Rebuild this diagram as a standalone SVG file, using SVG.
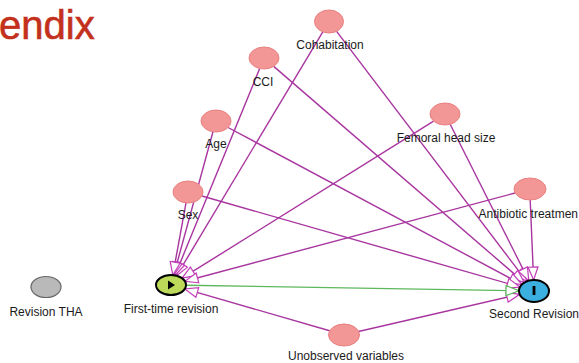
<svg xmlns="http://www.w3.org/2000/svg" width="579" height="363" viewBox="0 0 579 363">
<style>
text{font-family:"Liberation Sans",Arial,sans-serif;font-size:12px;fill:#1a1a1a;text-anchor:middle}
.title{font-size:40px;fill:#c3301c;text-anchor:start;stroke:#c3301c;stroke-width:0.6}
.var{fill:#f29696;stroke:#ea8080;stroke-width:1}
.e{stroke:#a8359f;stroke-width:1.4;fill:none;marker-end:url(#ah)}
.g{stroke:#5cb85c;stroke-width:1.4;fill:none;marker-end:url(#ag)}
</style>
<defs>
<marker id="ah" viewBox="0 0 15 12" refX="14" refY="6" markerWidth="15" markerHeight="12" markerUnits="userSpaceOnUse" orient="auto">
<path d="M1,1 L14,6 L1,11 z" fill="#fff" stroke="#c23db8" stroke-width="1.2"/>
</marker>
<marker id="ag" viewBox="0 0 15 12" refX="14" refY="6" markerWidth="15" markerHeight="12" markerUnits="userSpaceOnUse" orient="auto">
<path d="M1,1 L14,6 L1,11 z" fill="#fff" stroke="#5cb85c" stroke-width="1.2"/>
</marker>
</defs>
<rect width="579" height="363" fill="#fff"/>
<text class="title" x="-1" y="39">endix</text>
<g id="connectors">
<line class="e" x1="322.8" y1="31.8" x2="176.6" y2="275.7"/>
<line class="e" x1="336.4" y1="31.2" x2="526.7" y2="281.4"/>
<line class="e" x1="259.7" y1="68.5" x2="175.0" y2="275.4"/>
<line class="e" x1="273.7" y1="66.4" x2="524.3" y2="282.6"/>
<line class="e" x1="213.0" y1="131.8" x2="173.7" y2="275.2"/>
<line class="e" x1="228.1" y1="127.5" x2="521.9" y2="284.5"/>
<line class="e" x1="186.0" y1="202.9" x2="172.8" y2="275.1"/>
<line class="e" x1="202.0" y1="196.0" x2="520.0" y2="287.0"/>
<line class="e" x1="433.6" y1="121.1" x2="182.0" y2="278.2"/>
<line class="e" x1="450.2" y1="124.3" x2="528.8" y2="280.7"/>
<line class="e" x1="515.1" y1="193.0" x2="184.9" y2="281.3"/>
<line class="e" x1="530.2" y1="200.0" x2="533.6" y2="280.0"/>
<line class="e" x1="330.5" y1="331.0" x2="184.8" y2="288.9"/>
<line class="e" x1="358.5" y1="331.5" x2="519.7" y2="294.3"/>
<line class="g" x1="186.0" y1="285.2" x2="519.0" y2="290.8"/>
</g>
<g id="node-cohabitation">
<ellipse class="var" cx="329" cy="21.5" rx="14.5" ry="11.5"/>
<text x="330" y="49">Cohabitation</text>
</g>
<g id="node-cci">
<ellipse class="var" cx="264" cy="58" rx="15" ry="11"/>
<text x="263" y="86">CCI</text>
</g>
<g id="node-age">
<ellipse class="var" cx="216" cy="121" rx="15" ry="11"/>
<text x="216" y="148">Age</text>
</g>
<g id="node-sex">
<ellipse class="var" cx="188" cy="192" rx="15" ry="11"/>
<text x="188" y="219">Sex</text>
</g>
<g id="node-femoral">
<ellipse class="var" cx="445" cy="114" rx="15" ry="11"/>
<text x="446" y="142">Femoral head size</text>
</g>
<g id="node-antibiotic">
<ellipse class="var" cx="530" cy="189" rx="16" ry="11"/>
<text x="478.6" y="218" style="text-anchor:start">Antibiotic treatmen</text>
</g>
<g id="node-unobserved">
<ellipse class="var" cx="344" cy="335" rx="15.5" ry="11"/>
<text x="346" y="360">Unobserved variables</text>
</g>
<g id="node-revision-tha">
<ellipse cx="46" cy="287" rx="15" ry="10.5" fill="#b9b9b9" stroke="#666" stroke-width="1.2"/>
<text x="46" y="316">Revision THA</text>
</g>
<g id="node-first-time">
<ellipse cx="171" cy="285" rx="15" ry="10" fill="#bcd95a" stroke="#000" stroke-width="2"/>
<path d="M168,280.5 L175,285 L168,289.5 z" fill="#000"/>
<text x="171" y="313">First-time revision</text>
</g>
<g id="node-second">
<ellipse cx="534" cy="291" rx="15" ry="11" fill="#3aafe0" stroke="#000" stroke-width="2"/>
<rect x="532.6" y="286" width="2.8" height="9" fill="#000"/>
<text x="534" y="318">Second Revision</text>
</g>
</svg>
